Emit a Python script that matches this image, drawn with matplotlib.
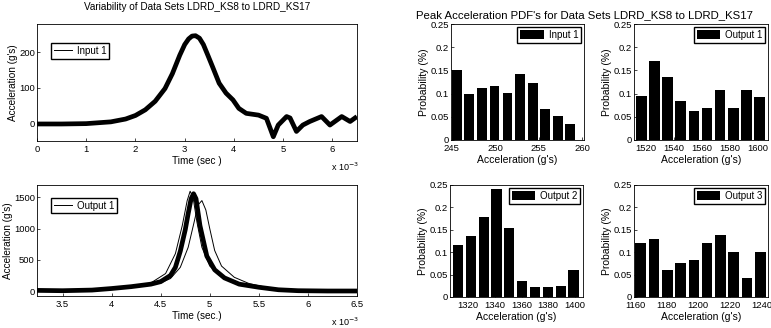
import matplotlib
matplotlib.use("Agg")
import matplotlib.pyplot as plt
from matplotlib.lines import Line2D

plt.rcParams["font.family"] = ["Liberation Sans", "DejaVu Sans"]
plt.rcParams["font.size"] = 7

# ── time histories (time in ms, acceleration in g's) ──
input1_t = [0.0, 0.5, 1.0, 1.5, 1.8, 2.0, 2.2, 2.4, 2.5, 2.6, 2.75, 2.9, 3.0, 3.08, 3.15, 3.22,
            3.3, 3.38, 3.47, 3.57, 3.7, 3.84, 3.98, 4.1, 4.25, 4.5, 4.66, 4.76, 4.8, 4.9, 5.07,
            5.14, 5.27, 5.4, 5.54, 5.78, 5.95, 6.19, 6.36, 6.46]
input1_acc = [-2, -2, -1, 4, 12, 22, 38, 62, 80, 98, 140, 192, 222, 238, 246, 247,
              240, 222, 192, 158, 113, 85, 66, 42, 28, 23, 14, -23, -38, -5, 19,
              15, -23, -5, 5, 19, -5, 19, 5, 15]

output1_t = [3.24, 3.5, 3.8, 4.0, 4.2, 4.4, 4.5, 4.6, 4.65, 4.7, 4.75, 4.78, 4.81, 4.835,
             4.86, 4.9, 4.97, 5.05, 5.15, 5.3, 5.5, 5.7, 5.9, 6.2, 6.5]
output1_acc = [10, 5, 15, 40, 70, 110, 150, 250, 380, 640, 980, 1240, 1480, 1560,
               1480, 1050, 560, 340, 210, 110, 60, 20, 5, 0, 0]

output1_late_t = [4.5, 4.6, 4.7, 4.78, 4.84, 4.88, 4.92, 4.96, 5.0, 5.05, 5.12, 5.25, 5.4, 5.6]
output1_late_acc = [130, 200, 380, 700, 1100, 1380, 1450, 1300, 1000, 650, 400, 220, 120, 50]

output1_early_t = [4.4, 4.55, 4.65, 4.72, 4.77, 4.8, 4.83, 4.87, 4.92, 5.0, 5.1]
output1_early_acc = [130, 280, 600, 1050, 1450, 1600, 1500, 1100, 700, 400, 250]

# ── peak acceleration PDFs (bin centres in g's, probability) ──
input1_bins = [245.6, 247.0, 248.5, 249.9, 251.4, 252.8, 254.3, 255.7, 257.2, 258.6]
input1_prob = [0.150, 0.099, 0.113, 0.116, 0.101, 0.143, 0.122, 0.067, 0.051, 0.034]

output1_bins = [1516.8, 1526.2, 1535.6, 1545.0, 1554.4, 1563.8, 1573.2, 1582.6, 1592.0, 1601.4]
output1_prob = [0.095, 0.170, 0.135, 0.085, 0.062, 0.068, 0.107, 0.068, 0.107, 0.093]

output2_bins = [1312.5, 1322.1, 1331.7, 1341.3, 1350.9, 1360.5, 1370.1, 1379.7, 1389.3, 1398.9]
output2_prob = [0.117, 0.136, 0.178, 0.242, 0.153, 0.036, 0.023, 0.023, 0.024, 0.060]

output3_bins = [1163.6, 1172.0, 1180.4, 1188.8, 1197.2, 1205.6, 1214.0, 1222.4, 1230.8, 1239.2]
output3_prob = [0.120, 0.130, 0.060, 0.075, 0.083, 0.120, 0.138, 0.100, 0.042, 0.100]

W, H = 771, 328
fig = plt.figure(figsize=(W / 100, H / 100), dpi=100)


def box(l, t, r, b):
    return [l / W, 1 - b / H, (r - l) / W, (b - t) / H]


def style(ax):
    for s in ax.spines.values():
        s.set_linewidth(0.6)
    ax.tick_params(direction="in", length=2, width=0.5, labelsize=6.8)
    ax.tick_params(axis="x", pad=3)
    ax.tick_params(axis="y", pad=1.5)


def line_legend(ax, name, anchor):
    handle = Line2D([], [], color="black", lw=0.7)
    ax.legend([handle], [name], loc="upper left", fontsize=7, frameon=True, fancybox=False,
              edgecolor="black", handlelength=1.8, borderpad=0.3, handletextpad=0.5,
              bbox_to_anchor=anchor, framealpha=1)


# ── top left: input time histories ──
ax1 = fig.add_axes(box(37, 24, 357, 141))
ax1.plot(input1_t, input1_acc, color="black", lw=3.4)
ax1.set_xlim(0, 6.5)
ax1.set_ylim(-50, 280)
ax1.set_xticks([0, 1, 2, 3, 4, 5, 6])
ax1.set_yticks([0, 100, 200])
ax1.set_xlabel("Time (sec )", labelpad=1, fontsize=7.2)
ax1.set_ylabel("Acceleration (g's)", labelpad=1, fontsize=7.2)
ax1.set_title("Variability of Data Sets LDRD_KS8 to LDRD_KS17", fontsize=7.2, pad=10)
line_legend(ax1, "Input 1", (0.03, 0.88))
style(ax1)
fig.text(345 / W, 1 - 167 / H, r"x 10$^{-3}$", fontsize=6.5, ha="center", va="center")

# ── bottom left: output time histories ──
ax2 = fig.add_axes(box(37, 185, 357, 296))
ax2.plot(output1_t, output1_acc, color="black", lw=3.4)
ax2.plot(output1_late_t, output1_late_acc, color="black", lw=0.7)
ax2.plot(output1_early_t, output1_early_acc, color="black", lw=0.7)
ax2.set_xlim(3.24, 6.5)
ax2.set_ylim(-80, 1700)
ax2.set_xticks([3.5, 4, 4.5, 5, 5.5, 6, 6.5])
ax2.set_xticklabels(["3.5", "4", "4.5", "5", "5.5", "6", "6.5"])
ax2.set_yticks([0, 500, 1000, 1500])
ax2.set_xlabel("Time (sec.)", labelpad=1, fontsize=7.2)
ax2.set_ylabel("Acceleration (g's)", labelpad=1, fontsize=7.2)
line_legend(ax2, "Output 1", (0.03, 0.93))
style(ax2)
fig.text(345 / W, 1 - 322 / H, r"x 10$^{-3}$", fontsize=6.5, ha="center", va="center")

# ── right: histograms ──
hists = [
    (box(451, 24, 584, 140), input1_bins, input1_prob, "Input 1", (244.9, 260.2), [245, 250, 255, 260]),
    (box(634, 24, 768, 140), output1_bins, output1_prob, "Output 1", (1511.6, 1607.4), [1520, 1540, 1560, 1580, 1600]),
    (box(450, 185, 583, 297), output2_bins, output2_prob, "Output 2", (1306.5, 1406), [1320, 1340, 1360, 1380, 1400]),
    (box(634, 185, 768, 297), output3_bins, output3_prob, "Output 3", (1159.4, 1244), [1160, 1180, 1200, 1220, 1240]),
]
for rect, bins, prob, name, xlim, xticks in hists:
    ax = fig.add_axes(rect)
    width = 0.8 * (bins[1] - bins[0])
    ax.bar(bins, prob, width=width, color="black", label=name)
    ax.set_xlim(*xlim)
    ax.set_ylim(0, 0.25)
    ax.set_xticks(xticks)
    ax.set_yticks([0, 0.05, 0.1, 0.15, 0.2, 0.25])
    ax.set_yticklabels(["0", "0.05", "0.1", "0.15", "0.2", "0.25"])
    ax.set_xlabel("Acceleration (g's)", labelpad=1, fontsize=7.5)
    ax.set_ylabel("Probability (%)", labelpad=1, fontsize=7.5)
    ax.legend(loc="upper right", fontsize=7, frameon=True, fancybox=False, edgecolor="black",
              handlelength=2.4, handleheight=0.9, borderpad=0.3, borderaxespad=0.3,
              handletextpad=0.5, framealpha=1)
    style(ax)

fig.text(584 / W, 1 - 15 / H, "Peak Acceleration PDF's for Data Sets LDRD_KS8 to LDRD_KS17",
         fontsize=8.2, ha="center", va="center")

fig.savefig("out.png", dpi=100)
